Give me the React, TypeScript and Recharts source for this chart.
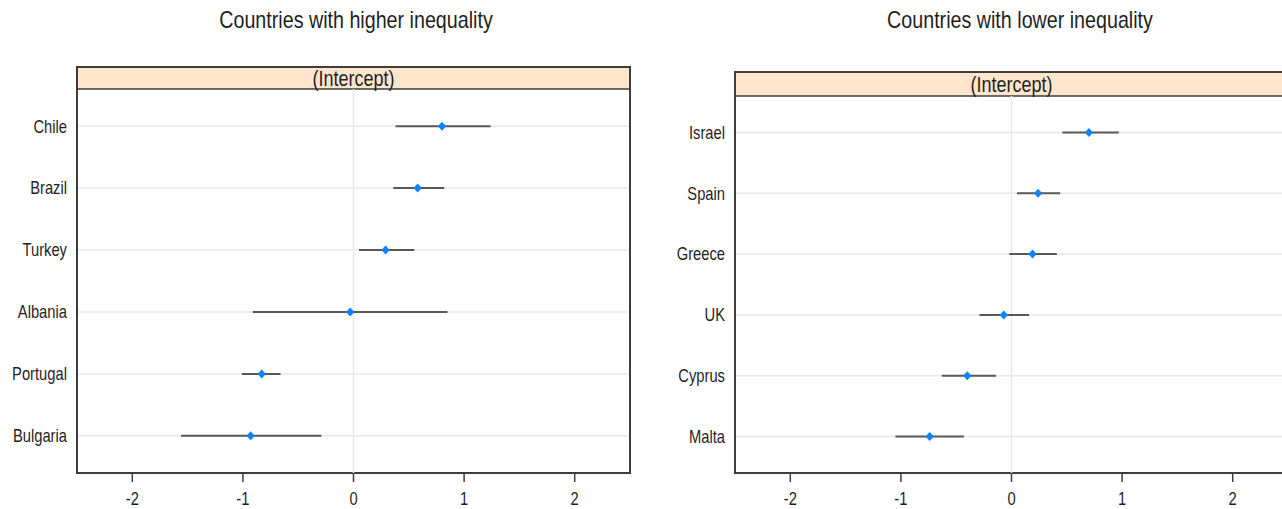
import {
  CartesianGrid,
  ErrorBar,
  ReferenceArea,
  ReferenceLine,
  Scatter,
  ScatterChart,
  XAxis,
  YAxis,
  ZAxis,
} from "recharts";

// random-intercept estimates with their intervals, top row first
const higherNames = ["Chile", "Brazil", "Turkey", "Albania", "Portugal", "Bulgaria"];
const higherEst = [0.8, 0.58, 0.29, -0.03, -0.83, -0.93];
const higherLo = [0.38, 0.36, 0.05, -0.91, -1.01, -1.56];
const higherHi = [1.24, 0.82, 0.55, 0.85, -0.66, -0.29];

const lowerNames = ["Israel", "Spain", "Greece", "UK", "Cyprus", "Malta"];
const lowerEst = [0.7, 0.24, 0.19, -0.07, -0.4, -0.74];
const lowerLo = [0.46, 0.05, -0.02, -0.29, -0.63, -1.05];
const lowerHi = [0.97, 0.44, 0.41, 0.16, -0.14, -0.43];

const xTicks = [-2, -1, 0, 1, 2];

const INK = "#1f1f1f";
const FRAME = "#3d3d3d";
const GRID = "#e8e8e8";
const DOT = "#0a84ff";
const BAR = "#585858";
const STRIP = "#ffe5cc";
const FONT = '"Liberation Sans", Arial, sans-serif';
// the R output uses a tall, narrow face; squeeze the glyphs horizontally
const SQUEEZE = 0.82;

const buildRows = (names: string[], est: number[], lo: number[], hi: number[]) =>
  names.map((name, i) => ({
    name,
    est: est[i],
    y: names.length - i,
    err: [est[i] - lo[i], hi[i] - est[i]],
  }));

const Diamond = (props: any) => {
  const { cx, cy } = props;
  if (cx == null || cy == null) return null;
  return <path d={`M${cx},${cy - 4.5}L${cx + 4.2},${cy}L${cx},${cy + 4.5}L${cx - 4.2},${cy}Z`} fill={DOT} />;
};

const Squeezed = ({ x, y, anchor, dy, size, children }: any) => (
  <text
    x={0}
    y={0}
    dy={dy}
    transform={`translate(${x},${y}) scale(${SQUEEZE},1)`}
    textAnchor={anchor}
    fill={INK}
    fontSize={size}
  >
    {children}
  </text>
);

const StripLabel = (props: any) => {
  const vb = props.viewBox;
  if (!vb) return null;
  return (
    <Squeezed x={vb.x + vb.width / 2} y={vb.y + vb.height / 2} anchor="middle" dy="0.355em" size={22}>
      (Intercept)
    </Squeezed>
  );
};

interface PanelProps {
  names: string[];
  est: number[];
  lo: number[];
  hi: number[];
  width: number;
  marginTop: number;
  marginRight: number;
  yAxisWidth: number;
  yTop: number;
}

const Panel = ({ names, est, lo, hi, width, marginTop, marginRight, yAxisWidth, yTop }: PanelProps) => {
  const rows = buildRows(names, est, lo, hi);
  const n = names.length;
  const yTicks = names.map((_, i) => i + 1);

  return (
    <ScatterChart width={width} height={509} margin={{ top: marginTop, right: marginRight, bottom: 0, left: 0 }}>
      <CartesianGrid vertical={false} stroke={GRID} strokeWidth={1.5} />
      <XAxis
        type="number"
        dataKey="est"
        domain={[-2.5, 2.5]}
        ticks={xTicks}
        interval={0}
        allowDataOverflow
        height={36}
        tickSize={9}
        tickMargin={10}
        axisLine={false}
        tickLine={{ stroke: FRAME, strokeWidth: 1.5 }}
        tick={(p: any) => (
          <Squeezed x={p.x} y={p.y} anchor="middle" dy="0.71em" size={18}>
            {p.payload.value}
          </Squeezed>
        )}
      />
      <XAxis
        xAxisId="top"
        orientation="top"
        type="number"
        domain={[-2.5, 2.5]}
        ticks={xTicks}
        interval={0}
        allowDataOverflow
        height={10}
        tickSize={10}
        axisLine={false}
        tickLine={{ stroke: FRAME, strokeWidth: 1.5 }}
        tickFormatter={() => ""}
      />
      <YAxis
        type="number"
        dataKey="y"
        domain={[0.4, yTop]}
        ticks={yTicks}
        interval={0}
        allowDataOverflow
        width={yAxisWidth}
        axisLine={false}
        tickLine={false}
        tickSize={0}
        tickMargin={10}
        tick={(p: any) => (
          <Squeezed x={p.x} y={p.y} anchor="end" dy="0.355em" size={18}>
            {names[n - p.payload.value]}
          </Squeezed>
        )}
      />
      <ZAxis range={[40, 40]} />
      <ReferenceLine segment={[{ x: 0, y: 0.4 }, { x: 0, y: n + 0.6 }]} stroke={GRID} strokeWidth={1.5} />
      <ReferenceArea
        x1={-2.5}
        x2={2.5}
        y1={n + 0.6}
        y2={yTop}
        fill={STRIP}
        fillOpacity={1}
        stroke={FRAME}
        strokeWidth={1.5}
        label={<StripLabel />}
      />
      <Scatter data={rows} shape={<Diamond />} isAnimationActive={false}>
        <ErrorBar dataKey="err" direction="x" width={0} stroke={BAR} strokeWidth={2} isAnimationActive={false} />
      </Scatter>
      <ReferenceArea x1={-2.5} x2={2.5} y1={0.4} y2={yTop} fill="none" stroke={FRAME} strokeWidth={2} />
    </ScatterChart>
  );
};

const Title = ({ text, center }: { text: string; center: number }) => (
  <div
    style={{
      position: "absolute",
      left: center - 200,
      top: 8,
      width: 400,
      textAlign: "center",
      fontSize: 24,
      lineHeight: "24px",
      color: INK,
      transform: `scaleX(${SQUEEZE})`,
    }}
  >
    {text}
  </div>
);

export default function App() {
  return (
    <div
      style={{
        position: "absolute",
        left: 0,
        top: 0,
        width: 1282,
        height: 509,
        overflow: "hidden",
        background: "#fff",
        fontFamily: FONT,
      }}
    >
      <div style={{ position: "absolute", left: 0, top: 0 }}>
        <Panel
          names={higherNames}
          est={higherEst}
          lo={higherLo}
          hi={higherHi}
          width={660}
          marginTop={57}
          marginRight={30}
          yAxisWidth={77}
          yTop={6.955}
        />
      </div>
      <div style={{ position: "absolute", left: 660, top: 0 }}>
        <Panel
          names={lowerNames}
          est={lowerEst}
          lo={lowerLo}
          hi={lowerHi}
          width={640}
          marginTop={62}
          marginRight={12}
          yAxisWidth={75}
          yTop={6.995}
        />
      </div>
      <Title text="Countries with higher inequality" center={356} />
      <Title text="Countries with lower inequality" center={1020} />
    </div>
  );
}
